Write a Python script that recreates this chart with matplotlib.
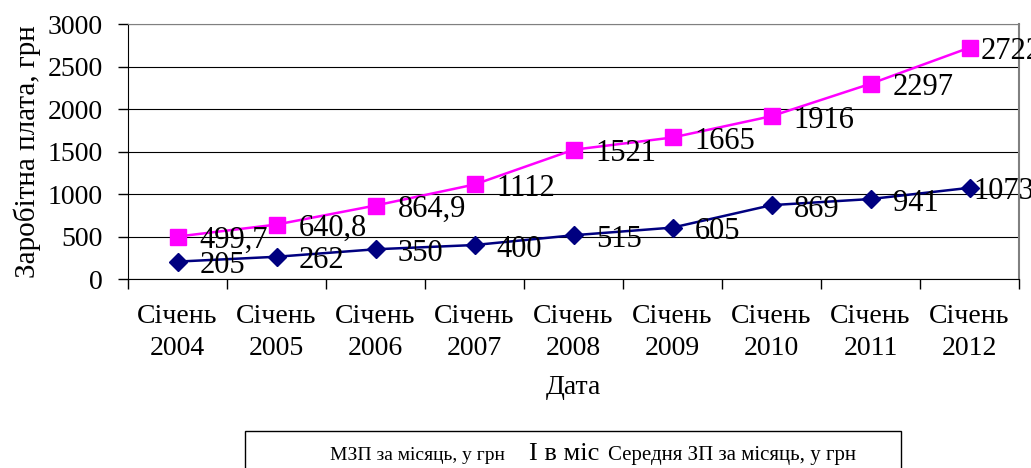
import numpy as np
import matplotlib
matplotlib.use("Agg")
import matplotlib.pyplot as plt
from matplotlib.patches import Rectangle

plt.rcParams['font.family'] = ['Liberation Serif', 'DejaVu Serif']

YEARS = ["2004", "2005", "2006", "2007", "2008", "2009", "2010", "2011", "2012"]
CATEGORIES = ["Січень\n" + y for y in YEARS]
MZP = [205, 262, 350, 400, 515, 605, 869, 941, 1073]
MZP_LABELS = ["205", "262", "350", "400", "515", "605", "869", "941", "1073"]
AVG = [499.7, 640.8, 864.9, 1112, 1521, 1665, 1916, 2297, 2722]
AVG_LABELS = ["499,7", "640,8", "864,9", "1112", "1521", "1665", "1916", "2297", "2722"]
YTICKS = [0, 500, 1000, 1500, 2000, 2500, 3000]
LEGEND_TEXT = ["МЗП за місяць, у грн", "І в міс", "Середня ЗП за місяць, у грн"]


def main():
    fig = plt.figure(figsize=(10.31, 4.68), dpi=100)
    ax = fig.add_axes([0.1242, 0.4038, 0.8642, 0.5449])
    x = np.arange(len(CATEGORIES))

    ax.plot(x, AVG, color="#FF00FF", lw=1.8, marker="s", ms=11, zorder=3)
    ax.plot(x, MZP, color="#000080", lw=1.8, marker="D", ms=9, zorder=3)

    # last labels sit closer to the point (no room at the right edge)
    dx = [16] * (len(x) - 1) + [8]
    for xi, v, s, d in zip(x, AVG, AVG_LABELS, dx):
        ax.annotate(s, (xi, v), xytext=(d, -3), textcoords="offset points",
                    ha="left", va="center", fontsize=22, zorder=4)
    for xi, v, s, d in zip(x, MZP, MZP_LABELS, dx):
        ax.annotate(s, (xi, v), xytext=(d if d > 8 else 3, -3), textcoords="offset points",
                    ha="left", va="center", fontsize=22, zorder=4)

    ax.set_xlim(-0.5, len(CATEGORIES) - 0.5)
    ax.set_ylim(0, 3000)
    ax.set_yticks(YTICKS)
    ax.set_yticklabels([str(t) for t in YTICKS], fontsize=20)
    ax.yaxis.grid(True, color="black", lw=0.8)
    ax.set_axisbelow(True)

    ax.set_xticks(np.arange(-0.5, len(CATEGORIES), 1.0))
    ax.set_xticklabels([])
    ax.set_xticks(x, minor=True)
    ax.set_xticklabels(CATEGORIES, minor=True, fontsize=20, linespacing=1.35)
    ax.tick_params(axis="x", which="minor", length=0, pad=18)
    ax.tick_params(axis="x", which="major", length=7, width=1)
    ax.tick_params(axis="y", length=7, width=1, pad=11)

    ax.spines["top"].set_color("gray")
    ax.spines["right"].set_color("gray")
    ax.spines["right"].set_linewidth(1.5)

    ax.set_ylabel("Заробітна плата, грн", fontsize=21, labelpad=5)
    ax.set_xlabel("Дата", fontsize=20, labelpad=10)

    # legend box (broken legend, as in the source)
    fig.patches.append(Rectangle((245 / 1031, -0.05), (901 - 245) / 1031, 0.05 + 37 / 468,
                                 transform=fig.transFigure, fill=False,
                                 edgecolor="black", lw=1))
    ly = 1 - 460 / 468
    fig.text(330 / 1031, ly, LEGEND_TEXT[0], fontsize=14, va="baseline")
    fig.text(529 / 1031, ly, LEGEND_TEXT[1], fontsize=19, va="baseline")
    fig.text(608 / 1031, ly, LEGEND_TEXT[2], fontsize=15, va="baseline")

    plt.savefig("out.png", dpi=100)


if __name__ == "__main__":
    main()
